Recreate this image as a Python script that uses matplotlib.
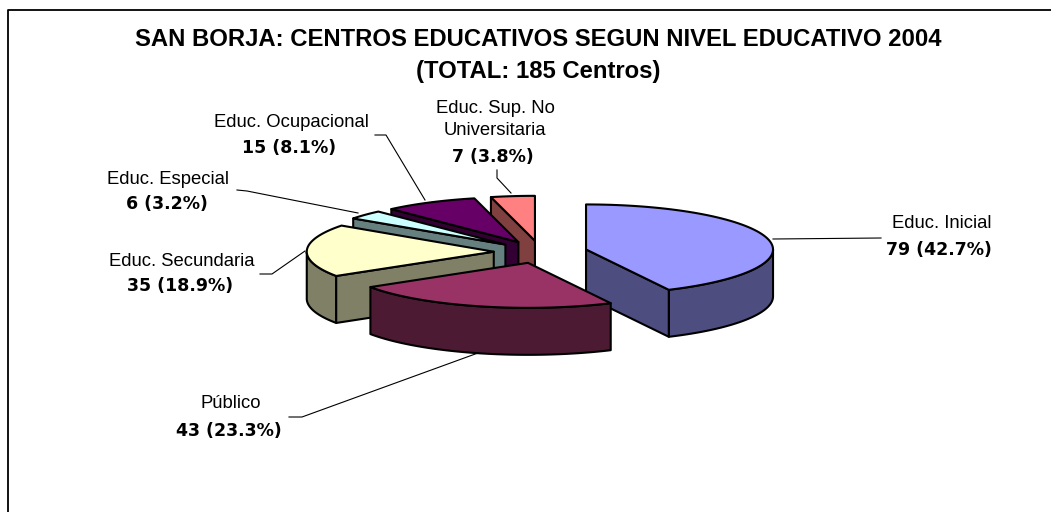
# San Borja pie chart, drawn as an exploded 3D pie by hand
import numpy as np
import matplotlib
matplotlib.use('Agg')
import matplotlib.pyplot as plt
from matplotlib.patches import Polygon

plt.rcParams['font.family'] = ['Liberation Sans', 'DejaVu Sans']

# data, clockwise from 12 o'clock
categories = ['Educ. Inicial', 'Público', 'Educ. Secundaria', 'Educ. Especial',
              'Educ. Ocupacional', 'Educ. Sup. No\nUniversitaria']
counts = [79, 43, 35, 6, 15, 7]
percent_labels = ['79 (42.7%)', '43 (23.3%)', '35 (18.9%)', '6 (3.2%)', '15 (8.1%)', '7 (3.8%)']
top_colors = ['#9999FF', '#993366', '#FFFFCC', '#CCFFFF', '#660066', '#FF8080']
side_colors = ['#4D4D80', '#4D1A33', '#808066', '#668080', '#330033', '#804040']

title = 'SAN BORJA: CENTROS EDUCATIVOS SEGUN NIVEL EDUCATIVO 2004\n(TOTAL: 185 Centros)'

# label placement: name centre x, name top y, percent centre x, percent top y
label_pos = [(942, 215, 939, 241), (231, 395, 229, 422), (182, 253, 180, 277),
             (168, 171, 167, 195), (291, 114, 289, 139), (495, 100, 493, 148)]
leaders = [[(773, 239), (881, 238)],
           [(478, 353), (302, 417), (289, 417)],
           [(305, 251), (272, 274), (260, 274)],
           [(358, 213), (247, 191), (237, 190)],
           [(425, 200), (386, 135), (375, 135)],
           [(511, 193), (497, 178), (497, 170)]]

# pie geometry in pixels
cx, cy = 540.5, 252
rx, ry = 187, 45
depth = 47
explode = 0.25


def pt(ox, oy, t, r=1.0):
    return ox + rx * r * np.sin(t), oy - ry * r * np.cos(t)


fig = plt.figure(figsize=(10.51, 5.12), dpi=100)
ax = fig.add_axes([0, 0, 1, 1])
ax.set_xlim(0, 1051)
ax.set_ylim(512, 0)
ax.axis('off')

# chart frame, only left and top show in the crop
ax.plot([8, 8, 1051], [512, 10, 10], color='black', lw=1.3)

ax.text(538.5, 28, title, ha='center', va='top', fontsize=17.2, fontweight='bold',
        linespacing=1.5)

edges = np.cumsum([0] + counts) / sum(counts) * 2 * np.pi

# painter's order, back slices first and Público last
order = [5, 4, 3, 2, 0, 1]
for i in order:
    t0, t1 = edges[i], edges[i + 1]
    mid = (t0 + t1) / 2
    ox, oy = pt(cx, cy, mid, explode)
    top = np.array([pt(ox, oy, t) for t in np.linspace(t0, t1, 80)])
    ring = np.vstack([[ox, oy], top])

    # rim, only the part facing the viewer
    a0, a1 = max(t0, np.pi / 2), min(t1, 3 * np.pi / 2)
    if a1 > a0:
        arc = np.array([pt(ox, oy, t) for t in np.linspace(a0, a1, 80)])
        rim = np.vstack([arc, (arc + [0, depth])[::-1]])
        ax.add_patch(Polygon(rim, closed=True, fc=side_colors[i], ec='black', lw=1.5, joinstyle='round'))
    # radial walls
    for t, show in ((t0, np.sin(t0) < 0), (t1, np.sin(t1) > 0)):
        if show:
            ex, ey = pt(ox, oy, t)
            wall = [(ox, oy), (ex, ey), (ex, ey + depth), (ox, oy + depth)]
            ax.add_patch(Polygon(wall, closed=True, fc=side_colors[i], ec='black', lw=1.5, joinstyle='round'))
    ax.add_patch(Polygon(ring, closed=True, fc=top_colors[i], ec='black', lw=1.5, joinstyle='round'))

# leader lines and labels
for line in leaders:
    xs, ys = zip(*line)
    ax.plot(xs, ys, color='black', lw=0.8)

for name, pct, (nx, ny, px, py) in zip(categories, percent_labels, label_pos):
    ax.text(nx, ny, name, ha='center', va='top', fontsize=13.3, linespacing=1.42)
    ax.text(px, py, pct, ha='center', va='top', fontsize=12.5, fontweight='bold',
            family=['DejaVu Sans'])

fig.savefig('out.png', dpi=100)
